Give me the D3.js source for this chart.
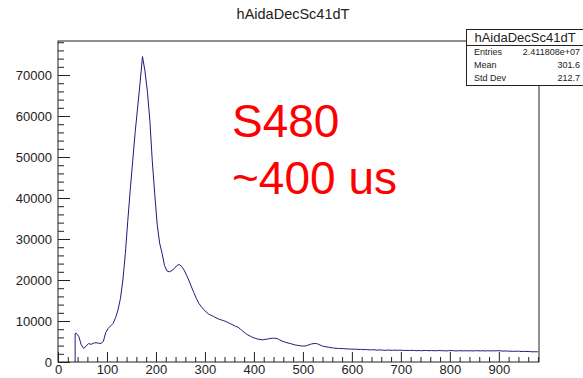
<!DOCTYPE html>
<html>
<head>
<meta charset="utf-8">
<script src="https://cdn.jsdelivr.net/npm/d3@7"></script>
<style>
  body { margin: 0; background: #fff; }
  svg { display: block; font-family: 'Liberation Sans', Arial, sans-serif; }
  .axis path { display: none; }
  .axis line { stroke: #222; stroke-width: 1; }
  .axis text { fill: #222; font-size: 13px; }
</style>
</head>
<body>
<svg id="chart" width="583" height="378"></svg>
<script>
// histogram bins: width 5, first filled bin starts at 35 (bins below are empty)
const binStart = 35
const binWidth = 5
const counts = [
  7000, 6200, 4200, 3300, 3900, 4500, 4300, 4600, 4700, 4600,   // 35-80
  4500, 5000, 7200, 8200, 8800, 9400, 10800, 12700, 15500, 20000, // 85-130
  26500, 34500, 42000, 49000, 56000, 62000, 68000, 74500, 71000, 66000, // 135-180
  59000, 49000, 41000, 33500, 29000, 26500, 23500, 22200, 22000, 22300, // 185-230
  22800, 23500, 23800, 23300, 22400, 21200, 19800, 18300, 16900, 15500, // 235-280
  14300, 13500, 12800, 12200, 11700, 11400, 11100, 10800, 10500, 10300, // 285-330
  10100, 9900, 9600, 9300, 9000, 8700, 8500, 8000, 7500, 7000,   // 335-380
  6600, 6300, 6000, 5800, 5600, 5500, 5400, 5500, 5600, 5700,    // 385-430
  5800, 5800, 5700, 5400, 5100, 4900, 4700, 4550, 4400, 4200,    // 435-480
  4100, 4000, 3900, 3900, 4000, 4200, 4400, 4500, 4500, 4300,    // 485-530
  4000, 3800, 3700, 3600, 3500, 3400, 3350, 3300, 3300, 3250,    // 535-580
  3200, 3200, 3150, 3100, 3150, 3050, 3100, 3000, 3050, 3000,    // 585-630
  2950, 3000, 2950, 2900, 2950, 2900, 2850, 2900, 2900, 2850,    // 635-680
  2900, 2850, 2900, 2850, 2800, 2850, 2800, 2850, 2800, 2750,    // 685-730
  2800, 2750, 2800, 2800, 2750, 2800, 2750, 2750, 2800, 2750,    // 735-780
  2750, 2700, 2750, 2800, 2750, 2700, 2750, 2750, 2700, 2750,    // 785-830
  2700, 2750, 2700, 2750, 2750, 2700, 2750, 2700, 2750, 2700,    // 835-880
  2750, 2700, 2750, 2750, 2650, 2700, 2650, 2650, 2600, 2600,    // 885-930
  2650, 2600, 2550, 2600, 2550, 2550, 2500, 2500, 2500            // 935-975
]
const xTicksMajor = [0, 100, 200, 300, 400, 500, 600, 700, 800, 900]
const yTicksMajor = [0, 10000, 20000, 30000, 40000, 50000, 60000, 70000]
const title = 'hAidaDecSc41dT'
const statLabels = ['Entries', 'Mean', 'Std Dev']
const statValues = ['2.411808e+07', '301.6', '212.7']
const annotation = ['S480', '~400 us']

const svg = d3.select('#chart')

const frame = { left: 58, right: 539, top: 41, bottom: 362 }

const xScale = d3.scaleLinear()
  .domain([0, 982])
  .range([frame.left, frame.right])
const yScale = d3.scaleLinear()
  .domain([0, 78300])
  .range([frame.bottom, frame.top])

// frame
svg.append('rect')
  .attr('x', frame.left)
  .attr('y', frame.top)
  .attr('width', frame.right - frame.left)
  .attr('height', frame.bottom - frame.top)
  .attr('fill', 'none')
  .attr('stroke', '#222')
  .attr('stroke-width', 1)

// axes, ticks pointing inward like ROOT
const xMinor = d3.range(0, 982, 20).filter(v => v % 100 !== 0)
const yMinor = d3.range(0, 78300, 2000).filter(v => v % 10000 !== 0)

svg.append('g')
  .attr('class', 'axis')
  .attr('transform', `translate(0, ${ frame.bottom })`)
  .call(d3.axisBottom(xScale).tickValues(xMinor).tickSize(-5).tickFormat(''))
svg.append('g')
  .attr('class', 'axis')
  .attr('transform', `translate(0, ${ frame.bottom })`)
  .call(d3.axisBottom(xScale).tickValues(xTicksMajor).tickSize(-10).tickPadding(3).tickFormat(d3.format('d')))

svg.append('g')
  .attr('class', 'axis')
  .attr('transform', `translate(${ frame.left }, 0)`)
  .call(d3.axisLeft(yScale).tickValues(yMinor).tickSize(-6).tickFormat(''))
svg.append('g')
  .attr('class', 'axis')
  .attr('transform', `translate(${ frame.left }, 0)`)
  .call(d3.axisLeft(yScale).tickValues(yTicksMajor).tickSize(-12).tickPadding(6).tickFormat(d3.format('d')))

// histogram drawn through the bin centres (fine binning looks continuous)
const points = counts.map((c, i) => [binStart + (i + 0.5) * binWidth, c])
const lastEdge = binStart + counts.length * binWidth
const lineData = [[binStart, 0], [binStart, counts[0]]].concat(points, [[lastEdge, counts[counts.length - 1]]])

const line = d3.line()
  .x(d => xScale(d[0]))
  .y(d => yScale(d[1]))

svg.append('path')
  .datum(lineData)
  .attr('d', line)
  .attr('fill', 'none')
  .attr('stroke', '#1c1c78')
  .attr('stroke-width', 1)

// title
svg.append('text')
  .attr('x', 293)
  .attr('y', 19)
  .attr('text-anchor', 'middle')
  .style('font-size', '14.5px')
  .style('fill', '#222')
  .text(title)

// stats box
const stats = svg.append('g')
stats.append('rect')
  .attr('x', 466.5)
  .attr('y', 29.5)
  .attr('width', 130)
  .attr('height', 56)
  .attr('fill', '#fff')
  .attr('stroke', '#222')
stats.append('line')
  .attr('x1', 466.5).attr('x2', 583)
  .attr('y1', 45.5).attr('y2', 45.5)
  .attr('stroke', '#222')
stats.append('text')
  .attr('x', 525)
  .attr('y', 42)
  .attr('text-anchor', 'middle')
  .style('font-size', '13px')
  .style('fill', '#222')
  .text(title)
statLabels.forEach((label, i) => {
  stats.append('text')
    .attr('x', 474)
    .attr('y', 55 + 13 * i)
    .style('font-size', '9px')
    .style('fill', '#222')
    .text(label)
  stats.append('text')
    .attr('x', 580)
    .attr('y', 55 + 13 * i)
    .attr('text-anchor', 'end')
    .style('font-size', '9px')
    .style('fill', '#222')
    .text(statValues[i])
})

// red annotation
annotation.forEach((t, i) => {
  svg.append('text')
    .attr('x', 232)
    .attr('y', 137 + 57 * i)
    .style('font-size', '46px')
    .style('fill', '#ff0000')
    .text(t)
})
</script>
</body>
</html>
